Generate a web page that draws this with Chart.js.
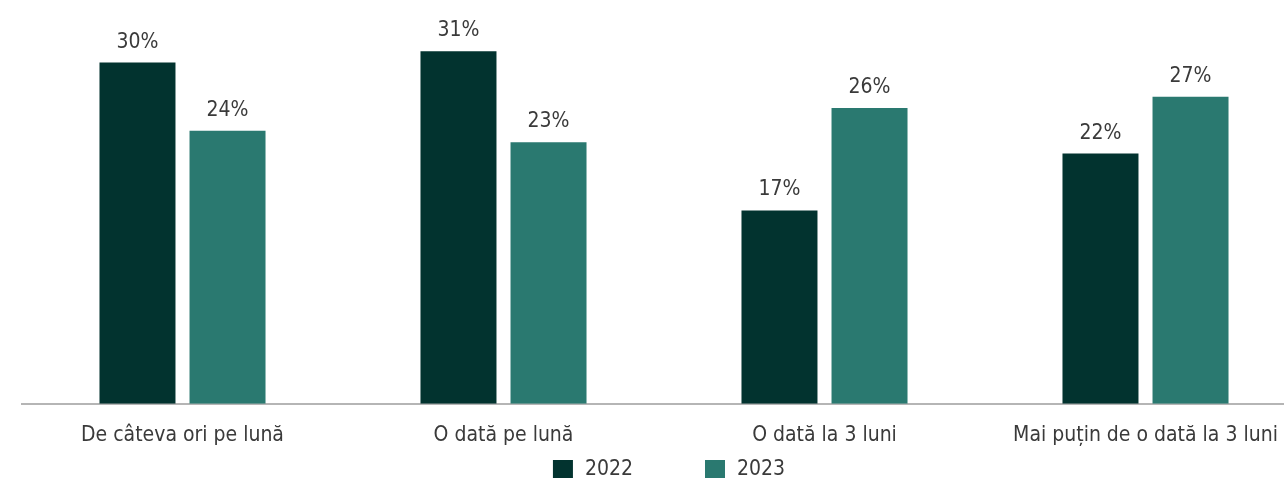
<!DOCTYPE html>
<html lang="ro">
<head>
  <meta charset="UTF-8" />
  <title>Frecvență</title>
  <style>
    html, body {
      margin: 0;
      padding: 0;
      background: #ffffff;
      overflow: hidden;
    }
    .frame {
      width: 1284px;
      height: 481px;
      overflow: hidden;
    }
    .chart-box {
      width: 1306px;
      height: 481px;
    }
  </style>
</head>
<body>
  <div class="frame">
    <div class="chart-box"><canvas id="freqChart"></canvas></div>
  </div>

  <script src="https://cdn.jsdelivr.net/npm/chart.js"></script>
  <script>
    const categories = [
      "De câteva ori pe lună",
      "O dată pe lună",
      "O dată la 3 luni",
      "Mai puțin de o dată la 3 luni"
    ];
    const values2022 = [30, 31, 17, 22];
    const values2023 = [24, 23, 26, 27];
    const seriesNames = ["2022", "2023"];

    const FONT = "'Liberation Sans Narrow', 'DejaVu Sans Condensed', sans-serif";
    const TEXT = "#3a3a3a";
    const FONT_SIZE = 21;

    // percentage above each bar, taken from the bar element itself
    const valueLabels = {
      id: "valueLabels",
      afterDatasetsDraw(chart) {
        const ctx = chart.ctx;
        ctx.save();
        ctx.font = FONT_SIZE + "px " + FONT;
        ctx.fillStyle = TEXT;
        ctx.textAlign = "center";
        ctx.textBaseline = "alphabetic";
        chart.data.datasets.forEach((ds, i) => {
          chart.getDatasetMeta(i).data.forEach((bar, j) => {
            ctx.fillText(ds.data[j] + "%", bar.x, bar.y - 15);
          });
        });
        ctx.restore();
      }
    };

    // legend row at the bottom, wide gap between the two items
    const bottomLegend = {
      id: "bottomLegend",
      afterDraw(chart) {
        const ctx = chart.ctx;
        const box = 20, boxH = 18, gap = 12, spacing = 72;
        ctx.save();
        ctx.font = FONT_SIZE + "px " + FONT;
        const items = chart.data.datasets.map(ds => ({
          text: ds.label,
          color: ds.backgroundColor,
          w: box + gap + ctx.measureText(ds.label).width
        }));
        const total = items.reduce((s, it) => s + it.w, 0) + spacing * (items.length - 1);
        let x = 669 - total / 2;
        const cy = 469;
        ctx.textBaseline = "middle";
        ctx.textAlign = "left";
        items.forEach(it => {
          ctx.fillStyle = it.color;
          ctx.fillRect(x, cy - boxH / 2, box, boxH);
          ctx.fillStyle = TEXT;
          ctx.fillText(it.text, x + box + gap, cy + 1);
          x += it.w + spacing;
        });
        ctx.restore();
      }
    };

    new Chart(document.getElementById("freqChart"), {
      type: "bar",
      data: {
        labels: categories,
        datasets: [
          {
            label: seriesNames[0],
            data: values2022,
            backgroundColor: "#02332f",
            categoryPercentage: 0.561,
            barPercentage: 0.844
          },
          {
            label: seriesNames[1],
            data: values2023,
            backgroundColor: "#2a7970",
            categoryPercentage: 0.561,
            barPercentage: 0.844
          }
        ]
      },
      options: {
        responsive: true,
        maintainAspectRatio: false,
        animation: false,
        layout: { padding: { left: 22, right: 0, top: 0, bottom: 22 } },
        plugins: {
          tooltip: { enabled: false },
          legend: { display: false }
        },
        scales: {
          x: {
            grid: { display: false },
            border: { display: true, color: "#b5b5b5", width: 2 },
            ticks: {
              color: TEXT,
              padding: 11,
              maxRotation: 0,
              font: { family: FONT, size: FONT_SIZE }
            }
          },
          y: {
            display: false,
            min: 0,
            max: 35.5
          }
        }
      },
      plugins: [valueLabels, bottomLegend]
    });
  </script>
</body>
</html>
